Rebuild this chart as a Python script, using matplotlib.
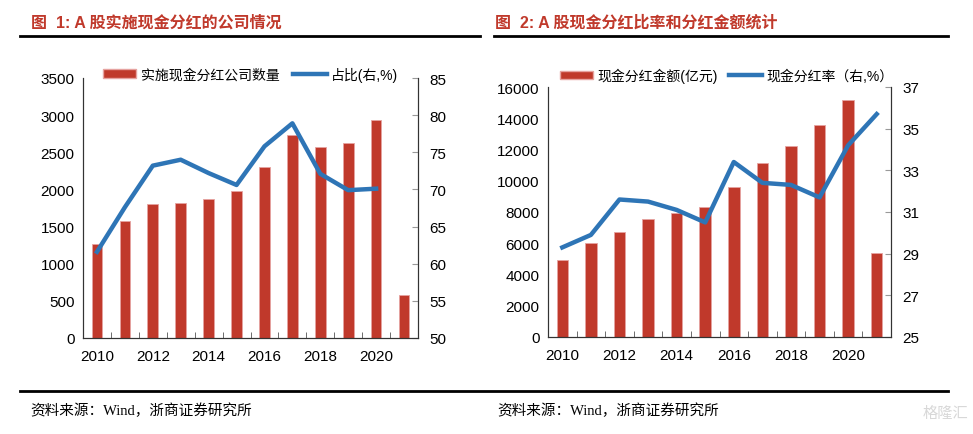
import numpy as np
import matplotlib
matplotlib.use("Agg")
import matplotlib.pyplot as plt
from matplotlib.lines import Line2D
from matplotlib.patches import Patch

plt.rcParams['font.family'] = ['Liberation Sans', 'Noto Sans CJK SC', 'DejaVu Sans']

years = list(range(2010, 2022))
xlabels = ['2010', '2012', '2014', '2016', '2018', '2020']

# Chart 1
companies = [1260, 1570, 1800, 1820, 1870, 1980, 2300, 2730, 2570, 2620, 2930, 580]
share_pct = [61.6, 67.6, 73.2, 74.0, 72.2, 70.6, 75.8, 78.9, 72.1, 69.9, 70.1]

# Chart 2
dividend_amt = [4900, 6000, 6700, 7530, 7940, 8300, 9620, 11140, 12250, 13560, 15160, 5370]
payout_ratio = [29.3, 29.9, 31.6, 31.5, 31.1, 30.5, 33.4, 32.4, 32.3, 31.7, 34.2, 35.7]

RED = '#C0392B'
BLUE = '#2E75B6'
TITLE_RED = '#C0392B'

fig = plt.figure(figsize=(9.73, 4.35), dpi=100)


def setup(ax, ax2, ylim, yticks, y2lim, y2ticks):
    n = len(years)
    ax.set_xlim(-0.5, n - 0.5)
    ax.set_ylim(*ylim)
    ax.set_yticks(yticks)
    ax2.set_ylim(*y2lim)
    ax2.set_yticks(y2ticks)
    pos = [years.index(int(y)) for y in xlabels]
    ax.set_xticks(pos)
    ax.set_xticklabels(xlabels)
    ax.set_xticks(np.arange(-0.5, n, 1.0), minor=True)
    ax.tick_params(axis='x', which='major', length=0, pad=8, labelsize=11)
    ax.tick_params(axis='x', which='minor', direction='in', length=4, color='#555555')
    ax.tick_params(axis='y', direction='out', length=0, pad=6, labelsize=11)
    ax2.tick_params(axis='y', direction='in', length=4, color='#999999', pad=8, labelsize=11)
    for a in (ax, ax2):
        a.spines['top'].set_visible(False)
        for s in ('left', 'right', 'bottom'):
            a.spines[s].set_color('#333333')
            a.spines[s].set_linewidth(0.8)


# ---- Chart 1 ----
ax1 = fig.add_axes([83 / 973, 1 - 339 / 435, 335 / 973, 260 / 435])
ax1b = ax1.twinx()
x = np.arange(len(years))
ax1.bar(x, companies, width=0.38, color=RED, edgecolor='#E6A3A0', linewidth=0.6, zorder=2)
ax1b.plot(np.arange(len(share_pct)), share_pct, color=BLUE, linewidth=3.2, zorder=3)
setup(ax1, ax1b, (0, 3500), np.arange(0, 3501, 500), (50, 85), np.arange(50, 86, 5))
h1 = [Patch(facecolor=RED, edgecolor='#E6A3A0'), Line2D([], [], color=BLUE, linewidth=3.2)]
ax1.legend(h1, ['实施现金分红公司数量', '占比(右,%)'], loc='lower center',
           bbox_to_anchor=(0.5, 0.965), ncol=2, frameon=False, fontsize=10,
           handlelength=2.4, handleheight=0.55, columnspacing=1.0, handletextpad=0.3,
           borderaxespad=0)

# ---- Chart 2 ----
ax2 = fig.add_axes([548 / 973, 1 - 338 / 435, 343 / 973, 250 / 435])
ax2b = ax2.twinx()
ax2.bar(x, dividend_amt, width=0.4, color=RED, edgecolor='#E6A3A0', linewidth=0.6, zorder=2)
ax2b.plot(x, payout_ratio, color=BLUE, linewidth=3.2, zorder=3)
setup(ax2, ax2b, (0, 16000), np.arange(0, 16001, 2000), (25, 37), np.arange(25, 38, 2))
ax2.legend(h1, ['现金分红金额(亿元)', '现金分红率（右,%）'], loc='lower center',
           bbox_to_anchor=(0.52, 0.995), ncol=2, frameon=False, fontsize=10,
           handlelength=2.4, handleheight=0.55, columnspacing=0.8, handletextpad=0.3,
           borderaxespad=0)

# ---- Titles and rules ----
fig.text(31 / 973, 1 - 23 / 435, '图  1: A 股实施现金分红的公司情况', color=TITLE_RED,
         fontsize=11.5, fontweight='bold', va='center', ha='left')
fig.text(495 / 973, 1 - 23 / 435, '图  2: A 股现金分红比率和分红金额统计', color=TITLE_RED,
         fontsize=11.5, fontweight='bold', va='center', ha='left')
fig.add_artist(Line2D([20 / 973, 480 / 973], [1 - 37 / 435] * 2, color='black', linewidth=2))
fig.add_artist(Line2D([494 / 973, 948 / 973], [1 - 37 / 435] * 2, color='black', linewidth=2))
fig.add_artist(Line2D([20 / 973, 948 / 973], [1 - 392 / 435] * 2, color='black', linewidth=2))

src_font = ['Liberation Serif', 'Noto Sans CJK SC']
fig.text(30 / 973, 1 - 411 / 435, '资料来源：Wind，浙商证券研究所', fontsize=10.5,
         family=src_font, va='center', ha='left')
fig.text(497 / 973, 1 - 411 / 435, '资料来源：Wind，浙商证券研究所', fontsize=10.5,
         family=src_font, va='center', ha='left')
fig.text(968 / 973, 1 - 413 / 435, '格隆汇', fontsize=11, color='#D8D8D8',
         family=['Noto Sans CJK SC'], va='center', ha='right')

fig.savefig('out.png', dpi=100)
